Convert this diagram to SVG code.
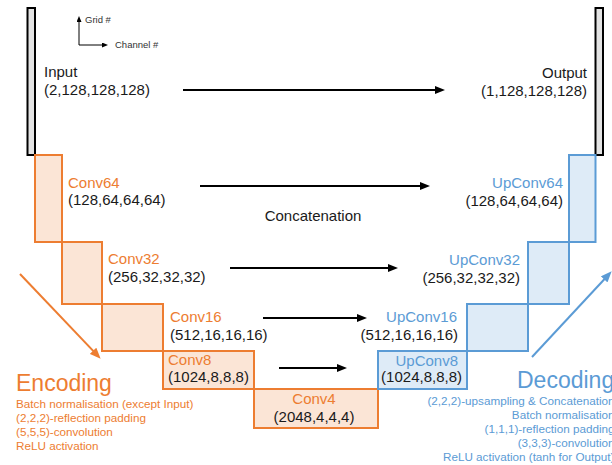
<svg xmlns="http://www.w3.org/2000/svg" width="612" height="465" viewBox="0 0 612 465">
<defs>
<style>
text{font-family:"Liberation Sans",Arial,sans-serif;}
.t{font-size:15px;fill:#1a1a1a;}
.o{fill:#ED7D31;}
.b{fill:#5B9BD5;}
.big{font-size:23px;}
.sm{font-size:11.7px;}
.tiny{font-size:9.5px;fill:#333;}
.bar{fill:#e3e3e3;stroke:#000;stroke-width:2;}
.ob{fill:#FBE5D6;stroke:#ED7D31;stroke-width:2;}
.bb{fill:#DEEBF7;stroke:#5B9BD5;stroke-width:2;}
.ar{stroke:#000;stroke-width:2;fill:none;marker-end:url(#ah);}
.ga{stroke:#000;stroke-width:1;fill:none;marker-end:url(#sah);}
.e{text-anchor:end;}
.m{text-anchor:middle;}
</style>
<marker id="ah" markerUnits="userSpaceOnUse" markerWidth="10" markerHeight="8" viewBox="0 0 10 8" refX="5" refY="4" orient="auto"><path d="M0,0 L10,4 L0,8 z" fill="#000"/></marker>
<marker id="sah" markerUnits="userSpaceOnUse" markerWidth="6" markerHeight="5" viewBox="0 0 6 5" refX="3" refY="2.5" orient="auto"><path d="M0,0 L6,2.5 L0,5 z" fill="#000"/></marker>
<marker id="oah" markerUnits="userSpaceOnUse" markerWidth="11" markerHeight="9" viewBox="0 0 11 9" refX="5" refY="4.5" orient="auto"><path d="M0,0 L11,4.5 L0,9 z" fill="#ED7D31"/></marker>
<marker id="bah" markerUnits="userSpaceOnUse" markerWidth="11" markerHeight="9" viewBox="0 0 11 9" refX="5" refY="4.5" orient="auto"><path d="M0,0 L11,4.5 L0,9 z" fill="#5B9BD5"/></marker>
</defs>

<g id="legend">
<path class="ga" d="M79,45 L79,19"/>
<path class="ga" d="M79,45 L105,45"/>
<text class="tiny" x="85" y="22.5">Grid #</text>
<text class="tiny" x="115" y="48">Channel #</text>
</g>

<g id="input">
<rect class="bar" x="27.5" y="8" width="7.5" height="147"/>
<text class="t" x="44" y="77">Input</text>
<text class="t" x="44" y="95">(2,128,128,128)</text>
</g>

<g id="output">
<rect class="bar" x="595.5" y="8" width="7.5" height="147"/>
<text class="t e" x="587" y="78">Output</text>
<text class="t e" x="587" y="96">(1,128,128,128)</text>
</g>

<g id="conv64">
<rect class="ob" x="35" y="155" width="27" height="87"/>
<text class="t o" x="68" y="188">Conv64</text>
<text class="t" x="68" y="205">(128,64,64,64)</text>
</g>
<g id="conv32">
<rect class="ob" x="62" y="242" width="40" height="62"/>
<text class="t o" x="108" y="264">Conv32</text>
<text class="t" x="108" y="282">(256,32,32,32)</text>
</g>
<g id="conv16">
<rect class="ob" x="102" y="304" width="61" height="47"/>
<text class="t o" x="170" y="322">Conv16</text>
<text class="t" x="170" y="340">(512,16,16,16)</text>
</g>
<g id="conv8">
<rect class="ob" x="163" y="351" width="91" height="38"/>
<text class="t o" x="168" y="365">Conv8</text>
<text class="t" x="168" y="382">(1024,8,8,8)</text>
</g>
<g id="conv4">
<rect class="ob" x="254" y="389" width="124" height="39"/>
<text class="t o m" x="314" y="404">Conv4</text>
<text class="t m" x="314" y="422">(2048,4,4,4)</text>
</g>

<g id="upconv64">
<rect class="bb" x="569" y="155" width="26.5" height="87"/>
<text class="t b e" x="563" y="188">UpConv64</text>
<text class="t e" x="563" y="206">(128,64,64,64)</text>
</g>
<g id="upconv32">
<rect class="bb" x="528" y="242" width="41" height="62"/>
<text class="t b e" x="520" y="265">UpConv32</text>
<text class="t e" x="520" y="283">(256,32,32,32)</text>
</g>
<g id="upconv16">
<rect class="bb" x="467" y="304" width="61" height="47"/>
<text class="t b e" x="457" y="322">UpConv16</text>
<text class="t e" x="458" y="340">(512,16,16,16)</text>
</g>
<g id="upconv8">
<rect class="bb" x="378" y="351" width="89" height="38"/>
<text class="t b e" x="458" y="366">UpConv8</text>
<text class="t e" x="462" y="382">(1024,8,8,8)</text>
</g>

<g id="encoding">
<text class="o big" x="16" y="391">Encoding</text>
<text class="o sm" x="16" y="407.5">Batch normalisation (except Input)</text>
<text class="o sm" x="16" y="421.5">(2,2,2)-reflection padding</text>
<text class="o sm" x="16" y="435.5">(5,5,5)-convolution</text>
<text class="o sm" x="16" y="450">ReLU activation</text>
</g>

<g id="decoding">
<text class="b big" x="517" y="388">Decoding</text>
<text class="b sm e" x="614.5" y="405">(2,2,2)-upsampling &amp; Concatenation</text>
<text class="b sm e" x="614.5" y="419">Batch normalisation</text>
<text class="b sm e" x="614.5" y="433">(1,1,1)-reflection padding</text>
<text class="b sm e" x="614.5" y="447">(3,3,3)-convolution</text>
<text class="b sm e" x="614.5" y="461">ReLU activation (tanh for Output)</text>
</g>

<g id="connectors">
<path class="ar" d="M183,90 L440,90"/>
<path class="ar" d="M200,186 L425,186"/>
<path class="ar" d="M230,268 L393,268"/>
<path class="ar" d="M263,318 L362,318"/>
<path class="ar" d="M279,368 L342,368"/>
<path d="M20,274 L96.5,354.4" stroke="#ED7D31" stroke-width="2" fill="none" marker-end="url(#oah)"/>
<path d="M532,357 L607.6,275.7" stroke="#5B9BD5" stroke-width="2" fill="none" marker-end="url(#bah)"/>
</g>
<text class="t m" x="313" y="221">Concatenation</text>
</svg>
